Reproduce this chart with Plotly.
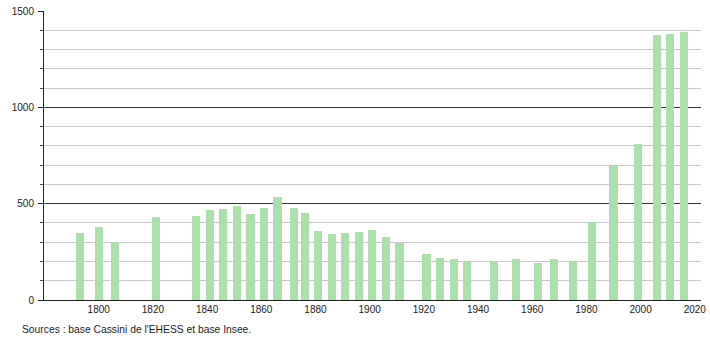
import plotly.graph_objects as go

years = [1793, 1800, 1806, 1821, 1836, 1841, 1846, 1851, 1856, 1861, 1866, 1872, 1876,
         1881, 1886, 1891, 1896, 1901, 1906, 1911, 1921, 1926, 1931, 1936, 1946, 1954,
         1962, 1968, 1975, 1982, 1990, 1999, 2006, 2011, 2016]
population = [349, 379, 299, 431, 438, 467, 474, 488, 448, 477, 533, 477, 451,
              358, 342, 349, 355, 363, 327, 297, 239, 220, 213, 202, 205, 214,
              194, 214, 202, 406, 700, 811, 1377, 1382, 1391]
x_ticks = [1800, 1820, 1840, 1860, 1880, 1900, 1920, 1940, 1960, 1980, 2000, 2020]
y_ticks = [0, 500, 1000, 1500]
source_text = "Sources : base Cassini de l'EHESS et base Insee."

fig = go.Figure()
fig.add_trace(go.Bar(
    x=years, y=population, width=3,
    marker=dict(color="rgb(170,224,170)", line=dict(width=0)),
    hoverinfo="x+y",
))

font = "Liberation Sans, Arial, sans-serif"
L, R, T, B = 44, 9, 11, 40
fig.update_layout(
    width=710, height=340,
    margin=dict(l=L, r=R, t=T, b=B, autoexpand=False),
    paper_bgcolor="white", plot_bgcolor="white",
    showlegend=False,
    font=dict(family=font, size=10, color="#222"),
    xaxis=dict(
        range=[1779.8, 2022.3],
        tickvals=x_ticks, automargin=False,
        ticks="", showgrid=False, zeroline=False,
        showline=True, linecolor="#222", linewidth=1,
        tickfont=dict(size=10, color="#222"),
    ),
    yaxis=dict(
        range=[0, 1500],
        tickvals=y_ticks, automargin=False,
        ticks="outside", ticklen=5, tickcolor="#222",
        ticklabelstandoff=2,
        showgrid=True, gridcolor="#333", gridwidth=1,
        zeroline=False,
        showline=True, linecolor="#222", linewidth=1,
        tickfont=dict(size=10, color="#222"),
        minor=dict(dtick=100, ticks="outside", ticklen=3, tickcolor="#444",
                   showgrid=True, gridcolor="#c8c8c8", gridwidth=1),
    ),
    bargap=0,
    annotations=[dict(
        text=source_text,
        x=(20 - L) / (710 - L - R), y=(340 - B - 329) / (340 - T - B),
        xref="paper", yref="paper",
        showarrow=False, xanchor="left", yanchor="middle",
        font=dict(size=10.3, color="#222", family=font),
    )],
)

fig.write_html("out.html")
